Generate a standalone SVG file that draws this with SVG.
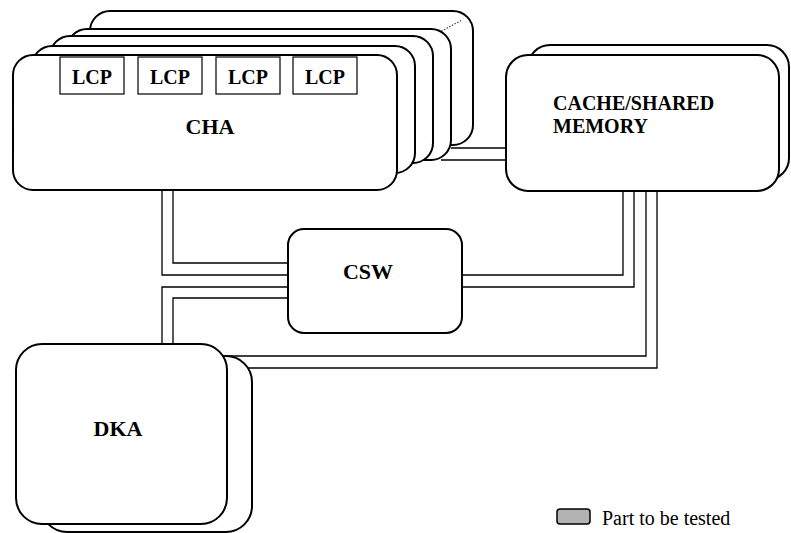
<svg xmlns="http://www.w3.org/2000/svg" width="791" height="533" viewBox="0 0 791 533">
<style>
.box{fill:#fff;stroke:#000;stroke-width:2}
.lcp{fill:#fff;stroke:#000;stroke-width:1.2}
.wire{fill:none;stroke:#000;stroke-width:1.3}
.lbl{font-family:"Liberation Serif","Times New Roman",serif;font-weight:bold;fill:#000}
.big{font-size:22px}
.mid{font-size:20px}
.leg{font-family:"Liberation Serif","Times New Roman",serif;font-size:20px;fill:#000}
</style>
<rect width="791" height="533" fill="#fff"/>
<g id="connectors">
<polyline class="wire" points="162,190 162,275 288,275"/>
<polyline class="wire" points="173,190 173,263 288,263"/>
<polyline class="wire" points="162,344 162,287 288,287"/>
<polyline class="wire" points="173,344 173,298 288,298"/>
<polyline class="wire" points="462,275 623,275 623,190"/>
<polyline class="wire" points="462,287 634,287 634,190"/>
<polyline class="wire" points="226,356 646,356 646,190"/>
<polyline class="wire" points="248,368 657,368 657,190"/>
<polyline class="wire" points="451,148 506,148"/>
<polyline class="wire" points="441,160 506,160"/>
</g>
<g id="cha">
<rect class="box" x="90" y="11" width="383" height="134" rx="20"/>
<line x1="436" y1="34" x2="462" y2="20" stroke="#444" stroke-width="1.2" stroke-dasharray="1.5,1.5"/>
<rect class="box" x="67" y="29" width="384" height="131" rx="20"/>
<rect class="box" x="50" y="36" width="383" height="127" rx="20"/>
<rect class="box" x="32" y="46" width="383" height="127" rx="20"/>
<rect class="box" x="13" y="55" width="384" height="135" rx="20"/>
<text class="lbl big" x="210" y="134" text-anchor="middle">CHA</text>
</g>
<g id="lcp1"><rect class="lcp" x="60" y="57" width="64" height="37"/><text class="lbl mid" x="92" y="84" text-anchor="middle">LCP</text></g>
<g id="lcp2"><rect class="lcp" x="138" y="57" width="64" height="37"/><text class="lbl mid" x="170" y="84" text-anchor="middle">LCP</text></g>
<g id="lcp3"><rect class="lcp" x="216" y="57" width="64" height="37"/><text class="lbl mid" x="248" y="84" text-anchor="middle">LCP</text></g>
<g id="lcp4"><rect class="lcp" x="293" y="57" width="64" height="37"/><text class="lbl mid" x="325" y="84" text-anchor="middle">LCP</text></g>
<g id="cache">
<rect class="box" x="528" y="45" width="261" height="135" rx="22"/>
<rect class="box" x="506" y="55" width="273" height="136" rx="22"/>
<text class="lbl mid" x="553" y="110">CACHE/SHARED</text>
<text class="lbl mid" x="553" y="133">MEMORY</text>
</g>
<g id="csw">
<rect class="box" x="288" y="229" width="174" height="104" rx="16"/>
<text class="lbl big" x="368" y="279" text-anchor="middle">CSW</text>
</g>
<g id="dka">
<rect class="box" x="41" y="356" width="211" height="176" rx="26"/>
<rect class="box" x="16" y="344" width="211" height="180" rx="26"/>
<text class="lbl big" x="118" y="436" text-anchor="middle">DKA</text>
</g>
<g id="legend">
<rect x="557" y="509" width="33" height="15" rx="3" fill="#b3b3b3" stroke="#000" stroke-width="1.5"/>
<text class="leg" x="602" y="525">Part to be tested</text>
</g>
</svg>
